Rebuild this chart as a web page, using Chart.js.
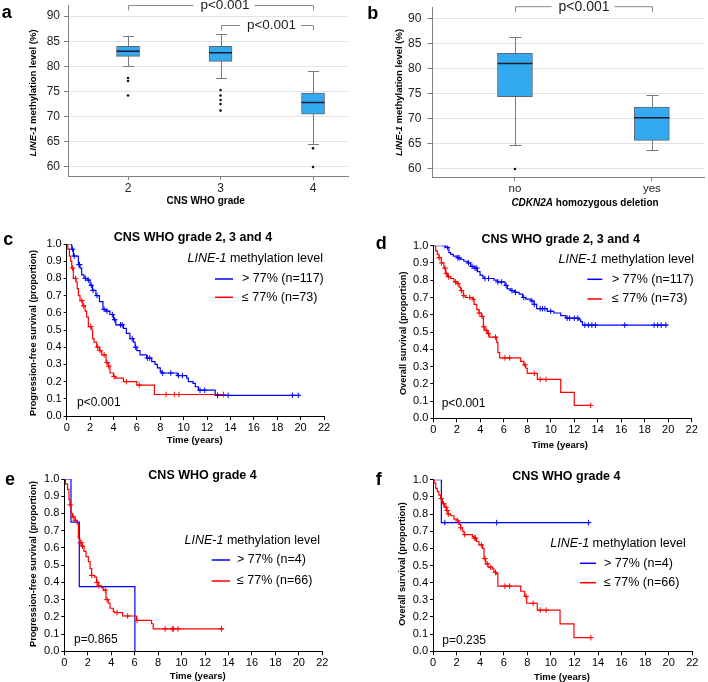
<!DOCTYPE html>
<html>
<head>
<title>LINE-1 methylation and survival</title>
<script src="https://cdn.jsdelivr.net/npm/chart.js"></script>
<style>
    body { margin: 0; padding: 0; background: #fff; }
    #page { position: relative; width: 708px; height: 682px; overflow: hidden; }
    canvas { position: absolute; display: block; }
</style>
</head>
<body>
<div id="page">
    <canvas id="chartA" width="354" height="220" style="left:0;top:0"></canvas>
    <canvas id="chartB" width="354" height="220" style="left:354px;top:0"></canvas>
    <canvas id="chartC" width="354" height="230" style="left:0;top:220px"></canvas>
    <canvas id="chartD" width="354" height="230" style="left:354px;top:220px"></canvas>
    <canvas id="chartE" width="354" height="232" style="left:0;top:450px"></canvas>
    <canvas id="chartF" width="354" height="232" style="left:354px;top:450px"></canvas>
</div>
<script>
var FONT = '"Liberation Sans", Arial, Helvetica, sans-serif';
var BLUE = '#0000ff', RED = '#ff0000', BOXFILL = '#33aaf0';
Chart.defaults.font.family = FONT;

// ---- panel a: LINE-1 by CNS WHO grade
var gradeCats = [2, 3, 4];
var gradeQ1 = [82.0, 81.0, 70.5];
var gradeQ3 = [84.0, 84.0, 74.7];
var gradeMed = [83.0, 82.7, 72.8];
var gradeLo = [80.0, 77.7, 64.6];
var gradeHi = [86.0, 86.4, 79.1];
var gradeOut = [[77.7, 77.1, 74.2], [75.3, 74.2, 73.3, 72.5, 71.2], [63.7, 60.0]];

// ---- panel b: LINE-1 by CDKN2A deletion
var delCats = ['no', 'yes'];
var delPos = [1, 2];
var delQ1 = [74.4, 65.7];
var delQ3 = [83.0, 72.3];
var delMed = [81.0, 70.2];
var delLo = [64.7, 63.7];
var delHi = [86.3, 74.8];
var delOut = [[60.0], []];

var methTicks = [60, 65, 70, 75, 80, 85, 90];

// ---- Kaplan-Meier curves (time in years, survival proportion)
var kmXTicks = [0, 2, 4, 6, 8, 10, 12, 14, 16, 18, 20, 22];
var kmYTicks = [0, 0.1, 0.2, 0.3, 0.4, 0.5, 0.6, 0.7, 0.8, 0.9, 1.0];

// c: PFS, all grades
var cHighT = [0, 0.43, 0.57, 1.0, 1.14, 1.28, 1.48, 1.77, 2.0, 2.2, 2.5, 2.8, 3.1, 3.36, 3.7, 4.0, 4.2, 4.85, 5.1, 5.4, 5.7, 5.85, 6.0, 6.27, 6.84, 7.27, 7.55, 7.75, 8.0, 8.1, 9.45, 10.26, 10.4, 10.8, 11.0, 11.26, 12.7, 19.95];
var cHighS = [1, 0.97, 0.93, 0.88, 0.86, 0.82, 0.80, 0.79, 0.76, 0.73, 0.70, 0.665, 0.62, 0.61, 0.59, 0.56, 0.53, 0.51, 0.48, 0.45, 0.43, 0.40, 0.38, 0.355, 0.337, 0.316, 0.30, 0.28, 0.26, 0.25, 0.235, 0.22, 0.20, 0.19, 0.17, 0.15, 0.12, 0.12];
var cHighCens = [0.5, 0.65, 1.05, 1.1, 1.6, 1.85, 2.1, 2.25, 2.6, 3.2, 3.45, 3.9, 4.1, 4.6, 4.75, 5.6, 5.9, 6.9, 7.1, 8.2, 8.9, 9.55, 9.9, 11.4, 11.8, 12.9, 13.8, 19.3, 19.8];
var cLowT = [0, 0.1, 0.23, 0.34, 0.43, 0.57, 0.8, 0.9, 1.0, 1.14, 1.37, 1.57, 1.7, 1.85, 2.14, 2.22, 2.34, 2.56, 2.8, 3.0, 3.36, 3.56, 3.7, 4.0, 4.13, 4.85, 6.0, 7.5, 13.5];
var cLowS = [1, 0.97, 0.93, 0.90, 0.86, 0.80, 0.78, 0.74, 0.70, 0.67, 0.64, 0.61, 0.575, 0.52, 0.50, 0.45, 0.43, 0.40, 0.38, 0.355, 0.31, 0.29, 0.25, 0.23, 0.22, 0.20, 0.18, 0.125, 0.125];
var cLowCens = [0.5, 0.75, 1.3, 1.45, 2.05, 2.65, 2.85, 3.2, 3.45, 3.6, 4.05, 5.1, 6.2, 8.5, 9.2, 9.6, 13.4];

// d: OS, all grades
var dHighT = [0, 1.05, 1.33, 1.48, 1.7, 2.05, 2.33, 2.6, 2.9, 3.18, 3.47, 3.75, 3.98, 4.2, 4.3, 5.17, 5.45, 6.1, 6.3, 6.6, 6.9, 7.3, 7.6, 7.87, 8.3, 8.58, 8.8, 9.7, 10.26, 10.85, 11.28, 12.4, 12.55, 12.7, 19.95];
var dHighS = [1, 0.99, 0.96, 0.95, 0.94, 0.93, 0.92, 0.91, 0.90, 0.88, 0.87, 0.85, 0.83, 0.82, 0.81, 0.80, 0.79, 0.77, 0.75, 0.74, 0.73, 0.72, 0.70, 0.69, 0.68, 0.66, 0.635, 0.62, 0.61, 0.595, 0.58, 0.57, 0.56, 0.54, 0.54];
var dHighCens = [1.0, 1.2, 2.1, 2.2, 3.0, 3.3, 3.55, 3.7, 4.4, 4.7, 5.5, 5.8, 6.2, 6.7, 7.0, 7.7, 8.4, 8.6, 9.1, 9.3, 9.5, 10.0, 11.4, 11.6, 12.0, 12.3, 12.9, 13.2, 13.5, 13.8, 16.3, 18.8, 19.1, 19.4, 19.8];
var dLowT = [0, 0.2, 0.34, 0.48, 0.68, 0.9, 1.05, 1.2, 1.48, 1.76, 2.05, 2.2, 2.33, 2.55, 2.76, 3.33, 3.47, 3.7, 3.9, 4.1, 4.26, 4.38, 4.6, 4.75, 5.4, 5.5, 5.65, 7.44, 7.7, 7.87, 8.0, 8.86, 10.85, 12.0, 13.47];
var dLowS = [1, 0.97, 0.95, 0.93, 0.90, 0.87, 0.84, 0.82, 0.81, 0.79, 0.78, 0.76, 0.74, 0.71, 0.70, 0.69, 0.66, 0.63, 0.61, 0.59, 0.53, 0.51, 0.49, 0.47, 0.44, 0.38, 0.35, 0.33, 0.31, 0.29, 0.26, 0.225, 0.15, 0.075, 0.075];
var dLowCens = [0.5, 0.7, 1.0, 1.1, 1.3, 1.9, 2.1, 2.4, 2.6, 3.1, 3.4, 3.9, 4.15, 4.3, 4.5, 4.7, 5.3, 6.1, 6.5, 7.8, 8.6, 9.1, 9.6, 13.4];

// e: PFS, grade 4
var eHighT = [0, 0.57, 1.28, 6.02];
var eHighS = [1, 0.75, 0.375, 0];
var eHighCens = [];
var eLowT = [0, 0.1, 0.28, 0.4, 0.48, 0.57, 0.7, 0.9, 1.1, 1.2, 1.33, 1.48, 1.68, 1.85, 2.05, 2.2, 2.33, 2.6, 2.75, 2.9, 3.18, 3.32, 3.55, 3.75, 3.9, 4.18, 4.3, 4.97, 6.16, 7.44, 7.58, 13.6];
var eLowS = [1, 0.97, 0.94, 0.88, 0.85, 0.80, 0.78, 0.76, 0.74, 0.655, 0.63, 0.61, 0.58, 0.55, 0.52, 0.48, 0.44, 0.43, 0.40, 0.38, 0.37, 0.355, 0.30, 0.28, 0.25, 0.23, 0.225, 0.205, 0.18, 0.16, 0.13, 0.13];
var eLowCens = [0.5, 0.75, 0.95, 1.35, 1.45, 1.55, 2.35, 2.8, 2.95, 3.5, 3.65, 4.5, 5.4, 6.2, 8.6, 9.2, 9.3, 9.7, 13.4];

// f: OS, grade 4
var fHighT = [0, 0.71, 13.2];
var fHighS = [1, 0.75, 0.75];
var fHighCens = [1.0, 5.4, 13.2];
var fLowT = [0, 0.1, 0.23, 0.37, 0.5, 0.65, 0.8, 1.0, 1.16, 1.27, 1.5, 1.78, 2.06, 2.2, 2.35, 2.5, 2.63, 3.34, 3.48, 3.7, 3.9, 4.2, 4.33, 4.47, 4.67, 5.03, 5.17, 5.4, 5.5, 7.44, 7.78, 7.95, 8.85, 10.78, 11.96, 13.4];
var fLowS = [1, 0.98, 0.95, 0.93, 0.91, 0.89, 0.86, 0.84, 0.82, 0.80, 0.79, 0.77, 0.76, 0.74, 0.72, 0.70, 0.68, 0.67, 0.66, 0.64, 0.62, 0.60, 0.54, 0.51, 0.49, 0.48, 0.46, 0.45, 0.38, 0.35, 0.32, 0.28, 0.24, 0.16, 0.08, 0.08];
var fLowCens = [0.7, 0.9, 1.1, 1.2, 1.3, 2.1, 2.35, 2.7, 3.5, 3.6, 4.1, 4.4, 4.6, 4.9, 5.3, 6.1, 6.5, 7.9, 8.5, 9.1, 9.6, 13.4];

function fnt(size, style) {
    return (style ? style + ' ' : '') + size + 'px ' + FONT;
}

// draws text made of several differently styled pieces
function drawRich(ctx, it) {
    ctx.save();
    ctx.translate(it.x, it.y);
    if (it.rot) ctx.rotate(it.rot);
    var w = 0;
    it.parts.forEach(function (p) { ctx.font = p[1]; w += ctx.measureText(p[0]).width; });
    var cx = it.align === 'center' ? -w / 2 : (it.align === 'right' ? -w : 0);
    ctx.textAlign = 'left';
    ctx.textBaseline = it.base || 'middle';
    ctx.fillStyle = it.color || '#000';
    it.parts.forEach(function (p) {
        ctx.font = p[1];
        ctx.fillText(p[0], cx, 0);
        cx += ctx.measureText(p[0]).width;
    });
    ctx.restore();
}

function textPlugin(items) {
    return {
        id: 'texts',
        afterDraw: function (chart) {
            var ctx = chart.ctx;
            items.forEach(function (it) {
                if (it.line) {
                    ctx.save();
                    ctx.strokeStyle = it.color;
                    ctx.lineWidth = 1.5;
                    ctx.beginPath();
                    ctx.moveTo(it.line[0], it.line[2]);
                    ctx.lineTo(it.line[1], it.line[2]);
                    ctx.stroke();
                    ctx.restore();
                } else {
                    drawRich(ctx, it);
                }
            });
        }
    };
}

function boxPlugin(cfg) {
    return {
        id: 'boxparts',
        beforeDatasetsDraw: function (chart) {
            var ctx = chart.ctx, xs = chart.scales.x, ys = chart.scales.y;
            ctx.save();
            ctx.strokeStyle = '#7a7a7a';
            ctx.lineWidth = 1;
            ctx.beginPath();
            cfg.pos.forEach(function (p, i) {
                var x = Math.round(xs.getPixelForValue(p)) + 0.5;
                var h = cfg.cap / 2;
                var yLo = Math.round(ys.getPixelForValue(cfg.lo[i])) + 0.5;
                var yHi = Math.round(ys.getPixelForValue(cfg.hi[i])) + 0.5;
                ctx.moveTo(x, ys.getPixelForValue(cfg.q1[i])); ctx.lineTo(x, yLo);
                ctx.moveTo(x - h, yLo); ctx.lineTo(x + h, yLo);
                ctx.moveTo(x, ys.getPixelForValue(cfg.q3[i])); ctx.lineTo(x, yHi);
                ctx.moveTo(x - h, yHi); ctx.lineTo(x + h, yHi);
            });
            ctx.stroke();
            ctx.restore();
        },
        afterDatasetsDraw: function (chart) {
            var ctx = chart.ctx, xs = chart.scales.x, ys = chart.scales.y;
            ctx.save();
            ctx.strokeStyle = '#1a1a2a';
            ctx.lineWidth = 1.4;
            ctx.beginPath();
            cfg.pos.forEach(function (p, i) {
                var x = xs.getPixelForValue(p), y = ys.getPixelForValue(cfg.med[i]);
                ctx.moveTo(x - cfg.boxW / 2, y);
                ctx.lineTo(x + cfg.boxW / 2, y);
            });
            ctx.stroke();
            // significance brackets
            ctx.strokeStyle = '#8a8a8a';
            ctx.lineWidth = 1;
            cfg.brackets.forEach(function (b) {
                var x1 = Math.round(xs.getPixelForValue(b.from)) + 0.5;
                var x2 = Math.round(xs.getPixelForValue(b.to)) + 0.5;
                var tx = (x1 + x2) / 2 + (b.dx || 0);
                ctx.font = fnt(b.size);
                var tw = ctx.measureText(b.text).width;
                ctx.beginPath();
                ctx.moveTo(x1, b.y + b.drop); ctx.lineTo(x1, b.y); ctx.lineTo(tx - tw / 2 - 7, b.y);
                ctx.moveTo(tx + tw / 2 + 5, b.y); ctx.lineTo(x2, b.y); ctx.lineTo(x2, b.y + b.drop);
                ctx.stroke();
                ctx.fillStyle = '#222';
                ctx.textAlign = 'center';
                ctx.textBaseline = 'middle';
                ctx.fillText(b.text, tx, b.y);
            });
            ctx.restore();
        }
    };
}

function boxChart(id, cfg) {
    var boxes = cfg.pos.map(function (p, i) { return { x: p, y: [cfg.q1[i], cfg.q3[i]] }; });
    var outs = [];
    cfg.out.forEach(function (list, i) {
        list.forEach(function (v) { outs.push({ x: cfg.pos[i], y: v }); });
    });
    return new Chart(document.getElementById(id), {
        type: 'bar',
        data: {
            datasets: [
                { type: 'scatter', data: outs, pointRadius: 1.3, pointBackgroundColor: '#111', pointBorderWidth: 0 },
                { data: boxes, backgroundColor: BOXFILL, borderColor: '#5f6670', borderWidth: 1, borderSkipped: false, barThickness: cfg.boxW }
            ]
        },
        options: {
            responsive: false,
            animation: false,
            events: [],
            layout: { padding: cfg.pad },
            plugins: { legend: { display: false }, tooltip: { enabled: false } },
            scales: {
                x: {
                    type: 'linear', min: cfg.xMin, max: cfg.xMax, offset: false,
                    afterBuildTicks: function (s) { s.ticks = cfg.pos.map(function (v) { return { value: v }; }); },
                    afterFit: function (s) { s.height = cfg.xH; s.paddingLeft = 0; s.paddingRight = 0; },
                    grid: { offset: false, drawOnChartArea: false, tickLength: 4, tickColor: '#808080' },
                    border: { color: '#808080' },
                    ticks: { font: { size: cfg.xFont }, color: '#222', padding: 1, maxRotation: 0, callback: cfg.xLabel }
                },
                y: {
                    min: cfg.yMin, max: cfg.yMax,
                    afterBuildTicks: function (s) { s.ticks = methTicks.map(function (v) { return { value: v }; }); },
                    afterFit: function (s) { s.width = cfg.yW; s.paddingTop = 0; s.paddingBottom = 0; },
                    grid: { color: '#e2e2e2', tickColor: '#808080', tickLength: cfg.yTick },
                    border: { color: '#808080' },
                    ticks: { font: { size: 12 }, color: '#222', padding: cfg.yPad }
                }
            }
        },
        plugins: [boxPlugin(cfg), textPlugin(cfg.texts)]
    });
}

// survival value of a step curve at time t (used to place censor marks on the curve)
function survAt(T, S, t) {
    var v = S[0];
    for (var i = 0; i < T.length; i++) { if (T[i] <= t) v = S[i]; }
    return v;
}

function kmChart(id, cfg) {
    function curve(T, S, color) {
        return {
            data: T.map(function (t, i) { return { x: t, y: S[i] }; }),
            borderColor: color, borderWidth: 1.2, stepped: true, pointRadius: 0, fill: false
        };
    }
    function marks(C, T, S, color) {
        return {
            type: 'scatter',
            data: C.map(function (t) { return { x: t, y: survAt(T, S, t) }; }),
            pointStyle: 'cross', pointRadius: 2.8, pointBorderColor: color, pointBorderWidth: 1, showLine: false
        };
    }
    return new Chart(document.getElementById(id), {
        type: 'line',
        data: {
            datasets: [
                marks(cfg.lowC, cfg.lowT, cfg.lowS, RED),
                marks(cfg.highC, cfg.highT, cfg.highS, BLUE),
                curve(cfg.lowT, cfg.lowS, RED),
                curve(cfg.highT, cfg.highS, BLUE)
            ]
        },
        options: {
            responsive: false,
            animation: false,
            events: [],
            layout: { padding: cfg.pad },
            plugins: { legend: { display: false }, tooltip: { enabled: false } },
            scales: {
                x: {
                    type: 'linear', min: 0, max: 22,
                    afterBuildTicks: function (s) { s.ticks = kmXTicks.map(function (v) { return { value: v }; }); },
                    afterFit: function (s) { s.height = cfg.xH; s.paddingLeft = 0; s.paddingRight = 0; },
                    grid: { drawOnChartArea: false, tickLength: 4, tickColor: '#000' },
                    border: { color: '#000' },
                    ticks: { font: { size: 11 }, color: '#000', padding: 1, maxRotation: 0 }
                },
                y: {
                    min: 0, max: 1,
                    afterBuildTicks: function (s) { s.ticks = kmYTicks.map(function (v) { return { value: v }; }); },
                    afterFit: function (s) { s.width = cfg.yW; s.paddingTop = 0; s.paddingBottom = 0; },
                    grid: { drawOnChartArea: false, tickLength: 3, tickColor: '#000' },
                    border: { color: '#000' },
                    ticks: { font: { size: 11 }, color: '#000', padding: 2, callback: function (v) { return v.toFixed(1); } }
                }
            }
        },
        plugins: [textPlugin(cfg.texts)]
    });
}

function kmTexts(o) {
    var lab = fnt(12.5);
    return [
        { parts: [[o.letter, fnt(18, 'bold')]], x: o.lx, y: o.ly, base: 'alphabetic' },
        { parts: [[o.title, fnt(12.5, 'bold')]], x: o.tx, y: o.ty, align: 'center' },
        { parts: [['LINE-1', fnt(12.5, 'italic')], [' methylation level', lab]], x: o.hx, y: o.hy, align: 'right' },
        { line: [o.l1, o.l2, o.by], color: BLUE },
        { parts: [[o.highLabel, lab]], x: o.lt, y: o.by },
        { line: [o.l1, o.l2, o.ry], color: RED },
        { parts: [[o.lowLabel, lab]], x: o.lt, y: o.ry },
        { parts: [[o.p, fnt(12)]], x: o.px, y: o.py },
        { parts: [[o.yTitle, fnt(9.2, 'bold')]], x: o.yx, y: o.yy, align: 'center', rot: -Math.PI / 2 },
        { parts: [['Time (years)', fnt(9.5, 'bold')]], x: o.xx, y: o.xy, align: 'center' }
    ];
}

var yMethTitle = [['LINE-1', fnt(9.5, 'italic bold')], [' methylation level (%)', fnt(9.5, 'bold')]];

boxChart('chartA', {
    pos: gradeCats, q1: gradeQ1, q3: gradeQ3, med: gradeMed, lo: gradeLo, hi: gradeHi, out: gradeOut,
    xMin: 1.351, xMax: 4.378, yMin: 58.2, yMax: 92.2, xFont: 12,
    pad: { left: 0, top: 5, right: 6, bottom: 0 }, xH: 44, yW: 68, yTick: 4, yPad: 4,
    boxW: 23, cap: 11,
    brackets: [
        { from: 2, to: 4, y: 5.5, drop: 5, text: 'p<0.001', size: 13.5, dx: 4 },
        { from: 3, to: 4, y: 25.5, drop: 5, text: 'p<0.001', size: 13.5, dx: 4 }
    ],
    texts: [
        { parts: [['a', fnt(18, 'bold')]], x: 1.7, y: 18.3, base: 'alphabetic' },
        { parts: yMethTitle, x: 33.3, y: 93, align: 'center', rot: -Math.PI / 2 },
        { parts: [['CNS WHO grade', fnt(10, 'bold')]], x: 205.7, y: 201.7, align: 'center' }
    ]
});

boxChart('chartB', {
    pos: delPos, q1: delQ1, q3: delQ3, med: delMed, lo: delLo, hi: delHi, out: delOut,
    xLabel: function (v) { return delCats[v - 1]; },
    xMin: 0.396, xMax: 2.381, yMin: 58.4, yMax: 92.25, xFont: 11.5,
    pad: { left: 0, top: 7, right: 0, bottom: 0 }, xH: 43, yW: 78.3, yTick: 5, yPad: 6,
    boxW: 35, cap: 12,
    brackets: [
        { from: 1, to: 2, y: 6.7, drop: 5.5, text: 'p<0.001', size: 14, dx: 0 }
    ],
    texts: [
        { parts: [['b', fnt(18, 'bold')]], x: 13.3, y: 19, base: 'alphabetic' },
        { parts: yMethTitle, x: 45, y: 92.5, align: 'center', rot: -Math.PI / 2 },
        { parts: [['CDKN2A', fnt(10, 'italic bold')], [' homozygous deletion', fnt(10, 'bold')]], x: 231, y: 203.3, align: 'center' }
    ]
});

kmChart('chartC', {
    highT: cHighT, highS: cHighS, highC: cHighCens, lowT: cLowT, lowS: cLowS, lowC: cLowCens,
    pad: { left: 0, top: 24, right: 30, bottom: 0 }, xH: 34, yW: 66.7,
    texts: kmTexts({
        letter: 'c', lx: 3.3, ly: 25, title: 'CNS WHO grade 2, 3 and 4', tx: 193, ty: 17.3,
        hx: 323, hy: 38.3, l1: 215, l2: 233, lt: 242, by: 59, ry: 77.3,
        highLabel: '> 77% (n=117)', lowLabel: '\u2264 77% (n=73)',
        p: 'p<0.001', px: 77, py: 183,
        yTitle: 'Progression-free survival (proportion)', yx: 33, yy: 113, xx: 194.7, xy: 220
    })
});

kmChart('chartD', {
    highT: dHighT, highS: dHighS, highC: dHighCens, lowT: dLowT, lowS: dLowS, lowC: dLowCens,
    pad: { left: 0, top: 25.7, right: 16.3, bottom: 0 }, xH: 31.7, yW: 79.3,
    texts: kmTexts({
        letter: 'd', lx: 21.7, ly: 29.3, title: 'CNS WHO grade 2, 3 and 4', tx: 206.7, ty: 20,
        hx: 340, hy: 39.3, l1: 233.3, l2: 248.3, lt: 258, by: 59.3, ry: 79,
        highLabel: '> 77% (n=117)', lowLabel: '\u2264 77% (n=73)',
        p: 'p<0.001', px: 87.7, py: 184,
        yTitle: 'Overall survival (proportion)', yx: 49.3, yy: 113.3, xx: 206, xy: 225
    })
});

kmChart('chartE', {
    highT: eHighT, highS: eHighS, highC: eHighCens, lowT: eLowT, lowS: eLowS, lowC: eLowCens,
    pad: { left: 0, top: 29, right: 31.7, bottom: 0 }, xH: 30.7, yW: 64.3,
    texts: kmTexts({
        letter: 'e', lx: 5, ly: 35, title: 'CNS WHO grade 4', tx: 202.5, ty: 25.7,
        hx: 320, hy: 90.7, l1: 211.7, l2: 230, lt: 237, by: 110, ry: 131,
        highLabel: '> 77% (n=4)', lowLabel: '\u2264 77% (n=66)',
        p: 'p=0.865', px: 74, py: 190,
        yTitle: 'Progression-free survival (proportion)', yx: 33.3, yy: 114, xx: 197.7, xy: 226.7
    })
});

kmChart('chartF', {
    highT: fHighT, highS: fHighS, highC: fHighCens, lowT: fLowT, lowS: fLowS, lowC: fLowCens,
    pad: { left: 0, top: 29.7, right: 15.7, bottom: 0 }, xH: 30.7, yW: 79,
    texts: kmTexts({
        letter: 'f', lx: 21.7, ly: 35, title: 'CNS WHO grade 4', tx: 212.3, ty: 26.7,
        hx: 331.7, hy: 94, l1: 226, l2: 242, lt: 250, by: 113.3, ry: 132.7,
        highLabel: '> 77% (n=4)', lowLabel: '\u2264 77% (n=66)',
        p: 'p=0.235', px: 88.3, py: 190.7,
        yTitle: 'Overall survival (proportion)', yx: 48.3, yy: 114, xx: 208, xy: 227.7
    })
});
</script>
</body>
</html>
